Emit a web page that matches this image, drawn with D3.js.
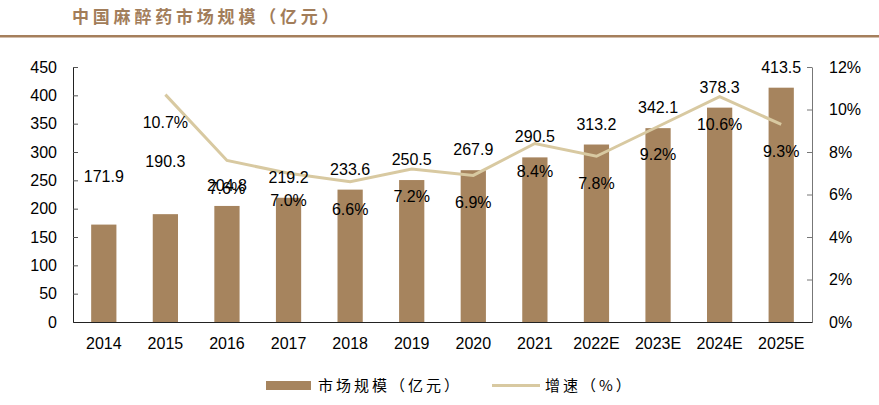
<!DOCTYPE html>
<html><head><meta charset="utf-8">
<script src="https://cdn.jsdelivr.net/npm/d3@7"></script>
<style>
body{margin:0;background:#fff;}
svg{display:block;font-family:"Liberation Sans",Arial,sans-serif;}
</style></head>
<body><svg id="c" width="879" height="405"></svg>
<script>
const title = "中国麻醉药市场规模（亿元）";
const categories = ["2014","2015","2016","2017","2018","2019","2020","2021","2022E","2023E","2024E","2025E"];
const marketSize = [171.9,190.3,204.8,219.2,233.6,250.5,267.9,290.5,313.2,342.1,378.3,413.5];
const growth = [null,10.7,7.6,7.0,6.6,7.2,6.9,8.4,7.8,9.2,10.6,9.3];
const leftTicks = [0,50,100,150,200,250,300,350,400,450];
const rightTicks = [0,2,4,6,8,10,12];
const legendLabels = ["市场规模（亿元）","增速（%）"];

const svg = d3.select("#c");
const barColor = "#a6845e", lineColor = "#d8c9a1", brown = "#a57f5c";
const m = {l:73, r:812, t:67, b:322};

// title
svg.append("text").attr("x",72).attr("y",23).text(title)
  .attr("fill","#a27d5a").attr("font-size",17).attr("font-weight","bold")
  .attr("letter-spacing",3.8)
  .style("font-family","'Noto Sans CJK SC',sans-serif");
svg.append("rect").attr("x",0).attr("y",35).attr("width",879).attr("height",2.5).attr("fill",brown);

const x = d3.scaleBand().domain(categories).range([m.l,m.r]).paddingInner(0.59).paddingOuter(0.295);
const yL = d3.scaleLinear().domain([0,450]).range([m.b,m.t]);
const yR = d3.scaleLinear().domain([0,12]).range([m.b,m.t]);

// left axis
const gL = svg.append("g").attr("transform",`translate(${m.l},0)`)
  .call(d3.axisLeft(yL).tickValues(leftTicks).tickSizeInner(-5).tickSizeOuter(0).tickPadding(16));
gL.select(".domain").attr("stroke","#222");
gL.selectAll(".tick line").attr("stroke","#555");
gL.selectAll("text").attr("font-size",16).attr("fill","#000").style("font-family","'Liberation Sans',Arial,sans-serif");

// right axis
const gR = svg.append("g").attr("transform",`translate(${m.r},0)`)
  .call(d3.axisRight(yR).tickValues(rightTicks).tickFormat(d=>d+"%").tickSizeInner(-5).tickSizeOuter(0).tickPadding(17));
gR.select(".domain").attr("stroke","#777");
gR.selectAll(".tick line").attr("stroke","#777");
gR.selectAll("text").attr("font-size",16).attr("fill","#000").style("font-family","'Liberation Sans',Arial,sans-serif");

// bars
svg.append("g").selectAll("rect").data(marketSize).join("rect")
  .attr("x",(d,i)=>x(categories[i])).attr("width",x.bandwidth())
  .attr("y",d=>yL(d)).attr("height",d=>m.b-yL(d)).attr("fill",barColor);

// bottom axis
const gB = svg.append("g").attr("transform",`translate(0,${m.b})`)
  .call(d3.axisBottom(x).tickSize(0).tickPadding(16));
gB.select(".domain").attr("stroke","#222");
gB.selectAll("text").attr("font-size",16).attr("fill","#000").style("font-family","'Liberation Sans',Arial,sans-serif");

// line
const pts = growth.map((g,i)=>({g,c:categories[i]})).filter(d=>d.g!==null);
svg.append("path").datum(pts)
  .attr("d",d3.line().x(d=>x(d.c)+x.bandwidth()/2).y(d=>yR(d.g)))
  .attr("fill","none").attr("stroke",lineColor).attr("stroke-width",3);

// value labels
const lift = i => (i===0?28:(i===1?32:0));
svg.append("g").selectAll("text").data(marketSize).join("text")
  .attr("x",(d,i)=>x(categories[i])+x.bandwidth()/2)
  .attr("y",(d,i)=>yL(d)-15-lift(i))
  .attr("text-anchor","middle").attr("font-size",16).attr("fill","#000")
  .text(d=>d.toFixed(1));

// growth labels
svg.append("g").selectAll("text").data(pts).join("text")
  .attr("x",d=>x(d.c)+x.bandwidth()/2)
  .attr("y",d=>yR(d.g)+33)
  .attr("text-anchor","middle").attr("font-size",16).attr("fill","#000")
  .text(d=>d.g.toFixed(1)+"%");

// legend
const lg = svg.append("g");
lg.append("rect").attr("x",266).attr("y",381).attr("width",45).attr("height",9).attr("fill",barColor);
lg.append("text").attr("x",318).attr("y",391).text(legendLabels[0]).attr("font-size",15).attr("fill","#000")
  .attr("letter-spacing",3).style("font-family","'Noto Sans CJK SC',sans-serif");
lg.append("line").attr("x1",492).attr("x2",540).attr("y1",385.5).attr("y2",385.5).attr("stroke",lineColor).attr("stroke-width",3);
lg.append("text").attr("x",545).attr("y",391).text(legendLabels[1]).attr("font-size",15).attr("fill","#000")
  .attr("letter-spacing",3).style("font-family","'Noto Sans CJK SC',sans-serif");
</script></body></html>
